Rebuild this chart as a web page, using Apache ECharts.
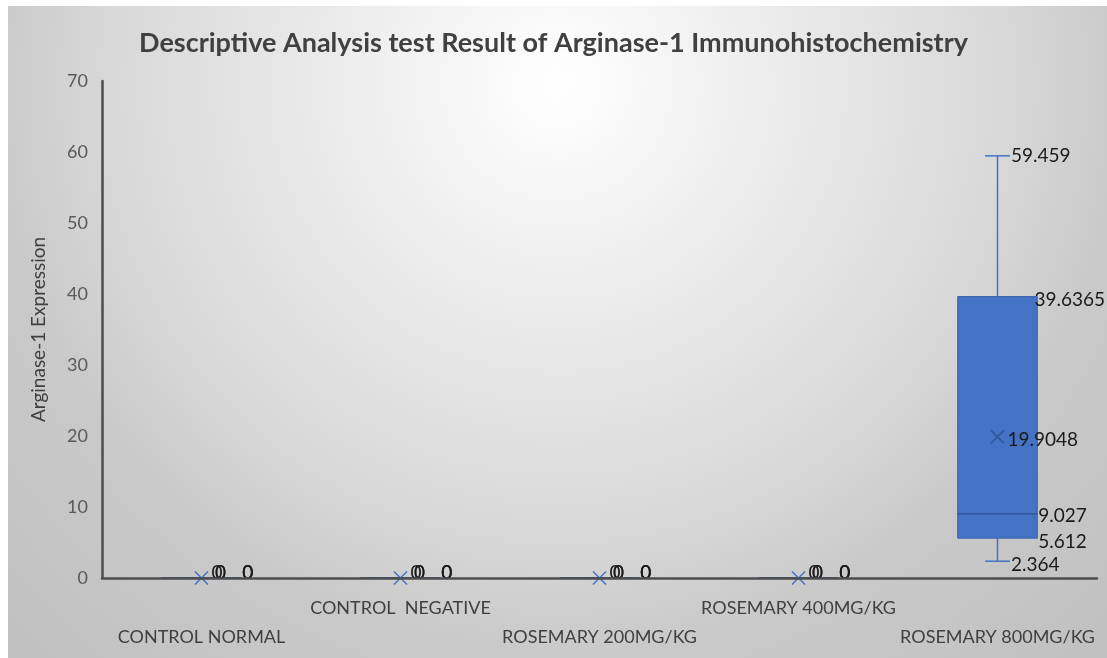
<!DOCTYPE html>
<html>
<head>
<meta charset="utf-8">
<script src="https://cdn.jsdelivr.net/npm/echarts@6/dist/echarts.min.js"></script>
<style>
html,body{margin:0;padding:0;background:#ffffff;}
#chart{width:1107px;height:658px;}
</style>
</head>
<body>
<div id="chart"></div>
<script>
const categories = ['CONTROL NORMAL', 'CONTROL  NEGATIVE', 'ROSEMARY 200MG/KG', 'ROSEMARY 400MG/KG', 'ROSEMARY 800MG/KG'];
const minValues    = [0, 0, 0, 0, 2.364];
const q1Values     = [0, 0, 0, 0, 5.612];
const medianValues = [0, 0, 0, 0, 9.027];
const q3Values     = [0, 0, 0, 0, 39.6365];
const maxValues    = [0, 0, 0, 0, 59.459];
const meanValues   = [0, 0, 0, 0, 19.9048];
const yMin = 0, yMax = 70, yInterval = 10;

const FONT = 'Lato, "Noto Sans", sans-serif';
const LABEL_SIZE = 19;
const chartWidth = 1107;

const measureCtx = document.createElement('canvas').getContext('2d');
function textWidth(t) {
  measureCtx.font = LABEL_SIZE + 'px ' + FONT;
  return measureCtx.measureText(t).width;
}
const fmt = v => String(v);

const boxData = categories.map((c, i) => [i, minValues[i], q1Values[i], medianValues[i], q3Values[i], maxValues[i], meanValues[i]]);

function label(text, x, y) {
  return {
    type: 'text', z2: 20,
    style: { text: text, x: x, y: y, fill: '#1a1a1a', font: LABEL_SIZE + 'px ' + FONT, textAlign: 'left', textVerticalAlign: 'middle' }
  };
}

function renderItem(params, api) {
  const idx = api.value(0);
  const band = api.size([1, 0])[0];
  const cx = api.coord([idx, 0])[0];
  const Y = k => api.coord([idx, api.value(k)])[1];
  const yMinP = Y(1), yQ1 = Y(2), yMed = Y(3), yQ3 = Y(4), yMaxP = Y(5), yMean = Y(6);
  const cs = params.coordSys;
  const axisY = cs.y + cs.height;
  const boxW = band * 0.4, capW = band * 0.125;
  const bl = cx - boxW / 2, br = cx + boxW / 2;
  const lineCol = '#4472C4';
  const ly = (py, d) => Math.min(py + d, axisY - 5);
  const children = [];
  // whiskers
  children.push({ type: 'line', shape: { x1: cx, y1: yQ3, x2: cx, y2: yMaxP }, style: { stroke: lineCol, lineWidth: 1.5 } });
  children.push({ type: 'line', shape: { x1: cx, y1: yQ1, x2: cx, y2: yMinP }, style: { stroke: lineCol, lineWidth: 1.5 } });
  children.push({ type: 'line', shape: { x1: cx - capW / 2, y1: yMaxP, x2: cx + capW / 2, y2: yMaxP }, style: { stroke: lineCol, lineWidth: 1.5 } });
  children.push({ type: 'line', shape: { x1: cx - capW / 2, y1: yMinP, x2: cx + capW / 2, y2: yMinP }, style: { stroke: lineCol, lineWidth: 1.5 } });
  // box
  children.push({ type: 'rect', shape: { x: bl, y: yQ3, width: boxW, height: yQ1 - yQ3 }, style: { fill: '#4472C4', stroke: '#3A62AC', lineWidth: 1 } });
  // median
  children.push({ type: 'line', shape: { x1: bl, y1: yMed, x2: br, y2: yMed }, style: { stroke: '#2F528F', lineWidth: 1.2 } });
  // mean marker
  const inBox = yQ1 - yQ3 > 2;
  const mc = inBox ? '#2F5597' : '#4472C4';
  const m = 6.5;
  children.push({ type: 'line', shape: { x1: cx - m, y1: yMean - m, x2: cx + m, y2: yMean + m }, style: { stroke: mc, lineWidth: 1.5 } });
  children.push({ type: 'line', shape: { x1: cx - m, y1: yMean + m, x2: cx + m, y2: yMean - m }, style: { stroke: mc, lineWidth: 1.5 } });
  // labels
  const q3Text = fmt(api.value(4));
  const q3x = Math.min(br + 1, chartWidth - 2 - textWidth(q3Text));
  children.push(label(fmt(api.value(6)), cx + 10, ly(yMean, 3)));
  children.push(label(fmt(api.value(5)), cx + capW / 2 + 1, ly(yMaxP, 0)));
  children.push(label(fmt(api.value(1)), cx + capW / 2 + 1, ly(yMinP, 4)));
  children.push(label(fmt(api.value(2)), br + 1, ly(yQ1, 4)));
  children.push(label(fmt(api.value(3)), br + 1, ly(yMed, 2)));
  children.push(label(q3Text, q3x, ly(yQ3, 3.5)));
  return { type: 'group', children: children };
}

const chart = echarts.init(document.getElementById('chart'), null, { renderer: 'canvas' });
chart.setOption({
  backgroundColor: '#ffffff',
  animation: false,
  graphic: {
    elements: [{
      type: 'rect', z: -100, silent: true,
      left: 8, top: 6,
      shape: { width: 1099, height: 652 },
      style: {
        fill: {
          type: 'radial', x: 0.5, y: 0.12, r: 1.23,
          colorStops: [
            { offset: 0, color: '#ffffff' },
            { offset: 0.21, color: '#f0f0f0' },
            { offset: 0.56, color: '#d8d8d8' },
            { offset: 0.71, color: '#c9c9c9' },
            { offset: 1, color: '#c0c0c0' }
          ]
        }
      }
    }]
  },
  title: {
    text: 'Descriptive Analysis test Result of Arginase-1 Immunohistochemistry',
    left: 'center', top: 25,
    textStyle: { fontFamily: FONT, fontWeight: 'bold', fontSize: 27, color: '#404040' }
  },
  grid: { left: 102, right: 10, top: 81, bottom: 80, containLabel: false },
  xAxis: {
    type: 'category', data: categories, z: 5,
    axisLine: { show: true, lineStyle: { color: '#4d4d4d', width: 2.5 } },
    axisTick: { show: false },
    splitLine: { show: false },
    axisLabel: {
      interval: 0, margin: 16, lineHeight: 29,
      fontFamily: FONT, fontSize: 18, color: '#404040',
      formatter: (v, i) => (i % 2 === 0 ? '\n' + v : v)
    }
  },
  yAxis: {
    type: 'value', min: yMin, max: yMax, interval: yInterval, z: 5,
    name: 'Arginase-1 Expression', nameLocation: 'middle', nameGap: 54, nameRotate: 90,
    nameTextStyle: { fontFamily: FONT, fontSize: 19, color: '#404040' },
    axisLine: { show: true, lineStyle: { color: '#4d4d4d', width: 2.5 } },
    axisTick: { show: false },
    splitLine: { show: false },
    axisLabel: { margin: 14, fontFamily: FONT, fontSize: 18, color: '#595959' }
  },
  series: [{
    type: 'custom', z: 1,
    renderItem: renderItem,
    encode: { x: 0, y: [1, 2, 3, 4, 5, 6] },
    data: boxData,
    clip: false
  }]
});
</script>
</body>
</html>
